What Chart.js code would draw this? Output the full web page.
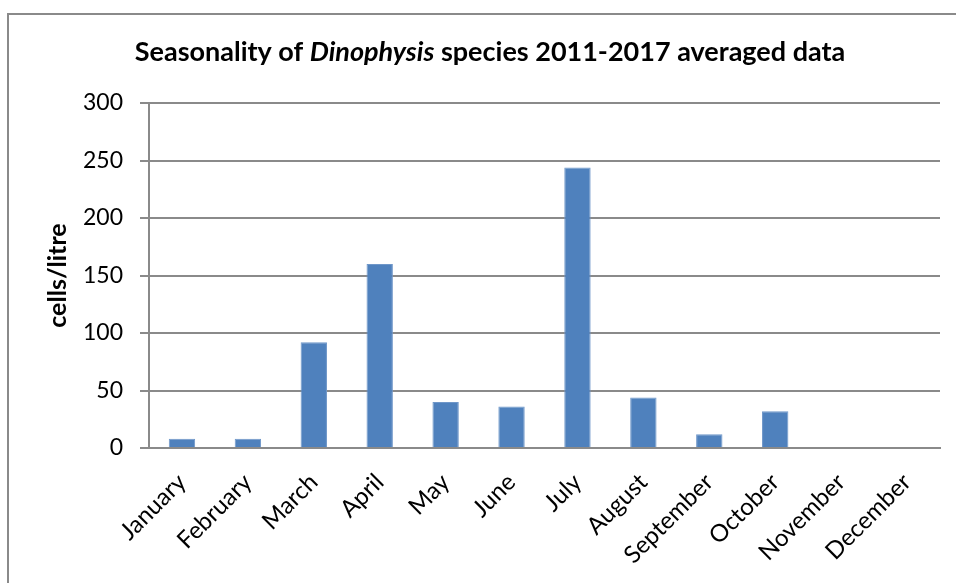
<!DOCTYPE html>
<html>
<head>
<meta charset="utf-8">
<script src="https://cdn.jsdelivr.net/npm/chart.js@4.4.1/dist/chart.umd.min.js"></script>
<style>
  html, body { margin: 0; padding: 0; background: #fff; overflow: hidden; }
  #wrap { position: relative; width: 956px; height: 583px; }
  #frame {
    position: absolute; left: 7px; top: 13px; width: 1000px; height: 700px;
    border: 2px solid #8a8a8a; box-sizing: border-box; pointer-events: none;
  }
  canvas { position: absolute; left: 0; top: 0; }
</style>
</head>
<body>
<div id="wrap">
  <div id="frame"></div>
  <canvas id="chart" width="956" height="583"></canvas>
</div>
<script>
const months = ['January', 'February', 'March', 'April', 'May', 'June',
  'July', 'August', 'September', 'October', 'November', 'December'];
const cellsPerLitre = [8, 8, 92, 160, 40, 36, 244, 44, 12, 32, 0, 0];
const yTicks = [0, 50, 100, 150, 200, 250, 300];

const titleParts = [
  { text: 'Seasonality of ', italic: false },
  { text: 'Dinophysis', italic: true },
  { text: ' species 2011-2017 averaged data', italic: false },
];

const FONT = 'Lato, "Open Sans", sans-serif';

// title with an italic genus name, drawn as one centred line
const mixedTitle = {
  id: 'mixedTitle',
  afterDraw(chart) {
    const ctx = chart.ctx;
    const size = 27;
    ctx.save();
    ctx.fillStyle = '#000';
    ctx.textBaseline = 'alphabetic';
    const fontFor = (p) => `${p.italic ? 'italic ' : ''}bold ${size}px ${FONT}`;
    let total = 0;
    titleParts.forEach((p) => { ctx.font = fontFor(p); total += ctx.measureText(p.text).width; });
    let x = 490 - total / 2;
    titleParts.forEach((p) => {
      ctx.font = fontFor(p);
      ctx.fillText(p.text, x, 61);
      x += ctx.measureText(p.text).width;
    });
    ctx.restore();
  },
};

new Chart(document.getElementById('chart'), {
  type: 'bar',
  data: {
    labels: months,
    datasets: [{
      label: 'cells/litre',
      data: cellsPerLitre,
      backgroundColor: '#4F81BD',
      borderColor: '#6f97c9',
      borderWidth: 1,
      barPercentage: 0.4,
      categoryPercentage: 1,
    }],
  },
  options: {
    responsive: false,
    animation: false,
    layout: { padding: { top: 103, right: 16, bottom: 0, left: 0 } },
    plugins: {
      legend: { display: false },
      tooltip: { enabled: false },
    },
    scales: {
      x: {
        offset: true,
        grid: { display: false, drawTicks: false },
        border: { display: true, color: '#8a8a8a', width: 2 },
        ticks: {
          autoSkip: false,
          maxRotation: 45,
          minRotation: 45,
          padding: 20,
          color: '#000',
          font: { family: FONT, size: 24 },
        },
        afterFit(scale) { scale.height = 135; },
      },
      y: {
        min: 0,
        max: 300,
        afterBuildTicks(scale) { scale.ticks = yTicks.map((v) => ({ value: v })); },
        grid: { color: '#8a8a8a', lineWidth: 2, tickLength: 9 },
        border: { display: true, color: '#8a8a8a', width: 2 },
        ticks: {
          padding: 17,
          color: '#000',
          font: { family: FONT, size: 23 },
        },
        title: {
          display: true,
          text: 'cells/litre',
          color: '#000',
          padding: { top: 43, bottom: 0 },
          font: { family: FONT, size: 25, weight: 'bold' },
        },
        afterFit(scale) { scale.width = 149; },
      },
    },
  },
  plugins: [mixedTitle],
});
</script>
</body>
</html>
